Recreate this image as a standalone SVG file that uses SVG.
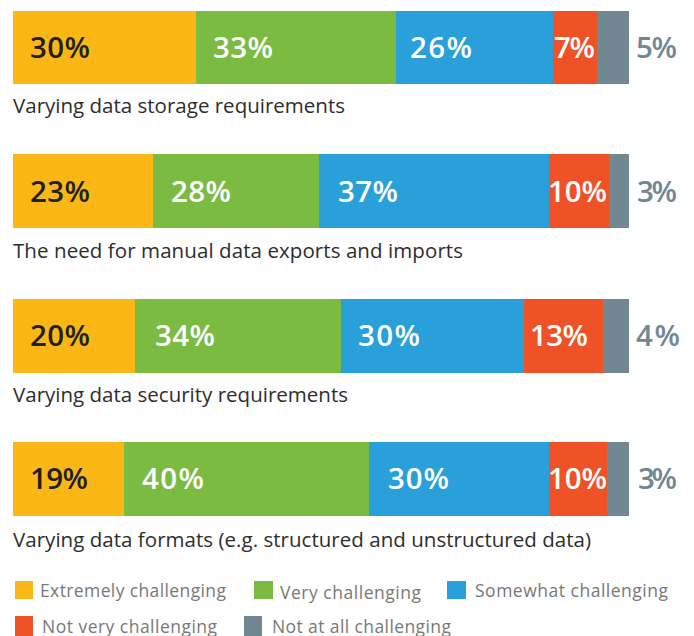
<svg xmlns="http://www.w3.org/2000/svg" width="694" height="636" viewBox="0 0 694 636">
<style>
.y{fill:#FBB715}.g{fill:#7CBB42}.b{fill:#29A0DA}.r{fill:#EF5227}.s{fill:#718791}
.p{font-family:"Open Sans","Liberation Sans",Arial,sans-serif;font-weight:600;font-size:29.5px;fill:#fff}
.pd{fill:#231F20}.po{fill:#718791}
.lab{font-family:"Open Sans","Liberation Sans",sans-serif;font-size:20.5px;fill:#2d2d2d}
.leg{font-family:"Open Sans","Liberation Sans",sans-serif;font-size:17.5px;fill:#787878}
</style>
<rect width="694" height="636" fill="#fff"/>
<g id="bar1">
<rect class="y" x="13" y="11" width="183" height="73"/>
<rect class="g" x="196" y="11" width="200" height="73"/>
<rect class="b" x="396" y="11" width="157" height="73"/>
<rect class="r" x="553" y="11" width="44" height="73"/>
<rect class="s" x="597" y="11" width="32" height="73"/>
<text class="p pd" x="30" y="58" textLength="60">30%</text>
<text class="p" x="213" y="58" textLength="60">33%</text>
<text class="p" x="410" y="58" textLength="62">26%</text>
<text class="p" x="554" y="58" textLength="41">7%</text>
<text class="p po" x="636" y="58" textLength="41">5%</text>
<text class="lab" x="13" y="113" textLength="332">Varying data storage requirements</text>
</g>
<g id="bar2">
<rect class="y" x="13" y="154" width="140" height="74"/>
<rect class="g" x="153" y="154" width="166" height="74"/>
<rect class="b" x="319" y="154" width="230" height="74"/>
<rect class="r" x="549" y="154" width="60" height="74"/>
<rect class="s" x="609" y="154" width="20" height="74"/>
<text class="p pd" x="30" y="202" textLength="60">23%</text>
<text class="p" x="171" y="202" textLength="60">28%</text>
<text class="p" x="338" y="202" textLength="60">37%</text>
<text class="p" x="548" y="202" textLength="59">10%</text>
<text class="p po" x="637" y="202" textLength="40">3%</text>
<text class="lab" x="13" y="258" textLength="450">The need for manual data exports and imports</text>
</g>
<g id="bar3">
<rect class="y" x="13" y="299" width="122" height="74"/>
<rect class="g" x="135" y="299" width="206" height="74"/>
<rect class="b" x="341" y="299" width="183" height="74"/>
<rect class="r" x="524" y="299" width="79" height="74"/>
<rect class="s" x="603" y="299" width="26" height="74"/>
<text class="p pd" x="30" y="346" textLength="60">20%</text>
<text class="p" x="155" y="346" textLength="60">34%</text>
<text class="p" x="358" y="346" textLength="62">30%</text>
<text class="p" x="530" y="346" textLength="58">13%</text>
<text class="p po" x="636" y="346" textLength="44">4%</text>
<text class="lab" x="13" y="402" textLength="335">Varying data security requirements</text>
</g>
<g id="bar4">
<rect class="y" x="13" y="442" width="111" height="74"/>
<rect class="g" x="124" y="442" width="245" height="74"/>
<rect class="b" x="369" y="442" width="180" height="74"/>
<rect class="r" x="549" y="442" width="58" height="74"/>
<rect class="s" x="607" y="442" width="22" height="74"/>
<text class="p pd" x="30" y="489" textLength="58">19%</text>
<text class="p" x="142" y="489" textLength="62">40%</text>
<text class="p" x="388" y="489" textLength="61">30%</text>
<text class="p" x="548" y="489" textLength="59">10%</text>
<text class="p po" x="638" y="489" textLength="39">3%</text>
<text class="lab" x="13" y="547" textLength="578">Varying data formats (e.g. structured and unstructured data)</text>
</g>
<g id="legend">
<rect class="y" x="15" y="581" width="18" height="18"/>
<text class="leg" x="40" y="597" textLength="186">Extremely challenging</text>
<rect class="g" x="254" y="581" width="19" height="18"/>
<text class="leg" x="280" y="599" textLength="141">Very challenging</text>
<rect class="b" x="447" y="581" width="19" height="18"/>
<text class="leg" x="475" y="597" textLength="193">Somewhat challenging</text>
<rect class="r" x="15" y="616" width="18" height="20"/>
<text class="leg" x="42" y="633" textLength="175">Not very challenging</text>
<rect class="s" x="244" y="616" width="18" height="20"/>
<text class="leg" x="272" y="633" textLength="179">Not at all challenging</text>
</g>
</svg>
